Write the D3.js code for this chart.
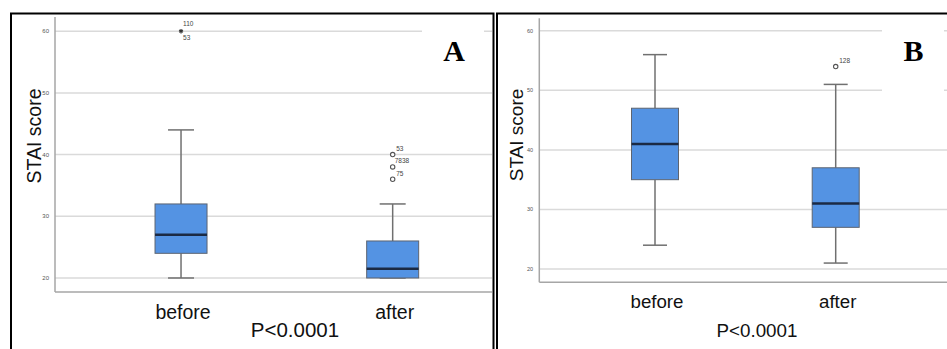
<!DOCTYPE html>
<html>
<head>
<meta charset="utf-8">
<script src="https://cdn.jsdelivr.net/npm/d3@7"></script>
<style>
  html, body { margin: 0; padding: 0; background: #fff; }
  svg { display: block; }
</style>
</head>
<body>
<svg id="chart" width="947" height="349"></svg>
<script>
// STAI score before and after, two panels of box plots
const groups = ["before", "after"];
const yTicks = [20, 30, 40, 50, 60];
const panelNames = ["A", "B"];
const pText = "P<0.0001";

// Panel A five-number summaries (per group: before, after)
const lowA = [20, 20];
const q1A = [24, 20];
const medA = [27, 21.5];
const q3A = [32, 26];
const highA = [44, 32];
const outliersA = [
  { group: "before", value: 60, ids: ["110", "53"], extreme: true },
  { group: "after", value: 40, ids: ["53"] },
  { group: "after", value: 38, ids: ["78", "38"] },
  { group: "after", value: 36, ids: ["75"] }
];

// Panel B five-number summaries
const lowB = [24, 21];
const q1B = [35, 27];
const medB = [41, 31];
const q3B = [47, 37];
const highB = [56, 51];
const outliersB = [
  { group: "after", value: 54, ids: ["128"] }
];

const svg = d3.select("#chart");

const panels = [
  {
    name: panelNames[0], low: lowA, q1: q1A, med: medA, q3: q3A, high: highA, outliers: outliersA,
    frame: { x0: 11, x1: 493.5, y0: 13.5 },
    axisX: 55, axisX1: 492, yRange: [292, 17], yDomain: [17.73, 62.3],
    xRange: [75.2, 498.5], boxW: 52, capW: 26,
    labelBox: { x: 422, y: 21, w: 62, h: 64 }, labelX: 454, labelY: 61,
    titleX: 41, titleY: 136, titleSize: 19.5,
    tickX: 49, tickSize: 6, catY: 319, catSize: 19.5,
    pX: 295, pY: 336.5, pSize: 20.5
  },
  {
    name: panelNames[1], low: lowB, q1: q1B, med: medB, q3: q3B, high: highB, outliers: outliersB,
    frame: { x0: 497, x1: 960, y0: 13.5 },
    axisX: 539.3, axisX1: 947, yRange: [282.3, 18.3], yDomain: [17.77, 62.1],
    xRange: [564.65, 926.05], boxW: 47, capW: 24,
    labelBox: { x: 882, y: 21, w: 62, h: 74 }, labelX: 913.5, labelY: 61,
    titleX: 523, titleY: 135, titleSize: 19,
    tickX: 533, tickSize: 5.5, catY: 308, catSize: 18.7,
    pX: 757, pY: 336.5, pSize: 18.8
  }
];

const gridColor = "#dadada";
const axisColor = "#a6a6a6";
const whiskerColor = "#707070";
const boxFill = "#5493e3";
const boxStroke = "#5d6470";
const medianColor = "#1b2a44";

panels.forEach(p => {
  const g = svg.append("g");
  const y = d3.scaleLinear().domain(p.yDomain).range(p.yRange);
  const x = d3.scalePoint().domain(groups).range(p.xRange).padding(0.5);

  // gridlines
  g.selectAll("line.grid").data(yTicks).join("line")
    .attr("x1", p.axisX).attr("x2", p.axisX1)
    .attr("y1", d => y(d)).attr("y2", d => y(d))
    .attr("stroke", gridColor).attr("stroke-width", 1.5);

  // white box behind the panel letter
  g.append("rect")
    .attr("x", p.labelBox.x).attr("y", p.labelBox.y)
    .attr("width", p.labelBox.w).attr("height", p.labelBox.h)
    .attr("fill", "#fff");

  // axes lines
  g.append("line")
    .attr("x1", p.axisX).attr("x2", p.axisX)
    .attr("y1", p.yRange[1]).attr("y2", p.yRange[0])
    .attr("stroke", axisColor).attr("stroke-width", 1.5);
  g.append("line")
    .attr("x1", p.axisX).attr("x2", p.axisX1)
    .attr("y1", p.yRange[0]).attr("y2", p.yRange[0])
    .attr("stroke", axisColor).attr("stroke-width", 1.5);

  // y tick labels
  g.selectAll("text.tick").data(yTicks).join("text")
    .attr("x", p.tickX).attr("y", d => y(d))
    .attr("dy", "0.35em")
    .attr("text-anchor", "end")
    .attr("font-family", "Liberation Sans, Arial, sans-serif")
    .attr("font-size", p.tickSize)
    .attr("fill", "#555")
    .text(d => d);

  // box plots
  groups.forEach((grp, i) => {
    const cx = x(grp);
    const bg = g.append("g");
    // whisker stems
    bg.append("line")
      .attr("x1", cx).attr("x2", cx)
      .attr("y1", y(p.high[i])).attr("y2", y(p.q3[i]))
      .attr("stroke", whiskerColor).attr("stroke-width", 1.5);
    bg.append("line")
      .attr("x1", cx).attr("x2", cx)
      .attr("y1", y(p.q1[i])).attr("y2", y(p.low[i]))
      .attr("stroke", whiskerColor).attr("stroke-width", 1.5);
    // caps
    [p.high[i], p.low[i]].forEach(v => {
      bg.append("line")
        .attr("x1", cx - p.capW / 2).attr("x2", cx + p.capW / 2)
        .attr("y1", y(v)).attr("y2", y(v))
        .attr("stroke", whiskerColor).attr("stroke-width", 1.5);
    });
    // box
    bg.append("rect")
      .attr("x", cx - p.boxW / 2).attr("width", p.boxW)
      .attr("y", y(p.q3[i])).attr("height", y(p.q1[i]) - y(p.q3[i]))
      .attr("fill", boxFill).attr("stroke", boxStroke).attr("stroke-width", 1);
    // median
    bg.append("line")
      .attr("x1", cx - p.boxW / 2).attr("x2", cx + p.boxW / 2)
      .attr("y1", y(p.med[i])).attr("y2", y(p.med[i]))
      .attr("stroke", medianColor).attr("stroke-width", 2.5);
  });

  // outliers
  const starType = d3.symbolAsterisk || d3.symbolCross;
  p.outliers.forEach(o => {
    const cx = x(o.group), cy = y(o.value);
    if (o.extreme) {
      g.append("path")
        .attr("d", d3.symbol().type(starType).size(14)())
        .attr("transform", `translate(${cx},${cy})`)
        .attr("stroke", "#333").attr("stroke-width", 1.2).attr("fill", "#333");
      // ids stacked above and below
      o.ids.forEach((id, k) => {
        g.append("text")
          .attr("x", cx + 2).attr("y", k === 0 ? cy - 5 : cy + 9)
          .attr("font-family", "Liberation Sans, Arial, sans-serif")
          .attr("font-size", 6.5).attr("fill", "#444")
          .text(id);
      });
    } else {
      g.append("circle")
        .attr("cx", cx).attr("cy", cy).attr("r", 2.2)
        .attr("fill", "#fff").attr("stroke", "#555").attr("stroke-width", 1.1);
      g.append("text")
        .attr("x", cx + (o.ids.length > 1 ? 2 : 3.5)).attr("y", cy - 3.5)
        .attr("font-family", "Liberation Sans, Arial, sans-serif")
        .attr("font-size", 6.5).attr("fill", "#444")
        .text(o.ids.join(""));
    }
  });

  // category labels
  g.selectAll("text.cat").data(groups).join("text")
    .attr("x", d => x(d) + 2).attr("y", p.catY)
    .attr("text-anchor", "middle")
    .attr("font-family", "Liberation Sans, Arial, sans-serif")
    .attr("font-size", p.catSize)
    .attr("fill", "#111")
    .text(d => d);

  // y title
  g.append("text")
    .attr("transform", `translate(${p.titleX},${p.titleY}) rotate(-90)`)
    .attr("text-anchor", "middle")
    .attr("font-family", "Liberation Sans, Arial, sans-serif")
    .attr("font-size", p.titleSize)
    .attr("fill", "#111")
    .text("STAI score");

  // p value
  g.append("text")
    .attr("x", p.pX).attr("y", p.pY)
    .attr("text-anchor", "middle")
    .attr("font-family", "Liberation Sans, Arial, sans-serif")
    .attr("font-size", p.pSize)
    .attr("fill", "#111")
    .text(pText);

  // panel letter
  g.append("text")
    .attr("x", p.labelX).attr("y", p.labelY)
    .attr("text-anchor", "middle")
    .attr("font-family", "Liberation Serif, Times New Roman, serif")
    .attr("font-weight", "bold")
    .attr("font-size", 30)
    .attr("fill", "#000")
    .text(p.name);

  // panel frame (top, left, right)
  g.append("path")
    .attr("d", `M${p.frame.x0},360 L${p.frame.x0},${p.frame.y0} L${p.frame.x1},${p.frame.y0} L${p.frame.x1},360`)
    .attr("fill", "none").attr("stroke", "#000").attr("stroke-width", 2);
});
</script>
</body>
</html>
